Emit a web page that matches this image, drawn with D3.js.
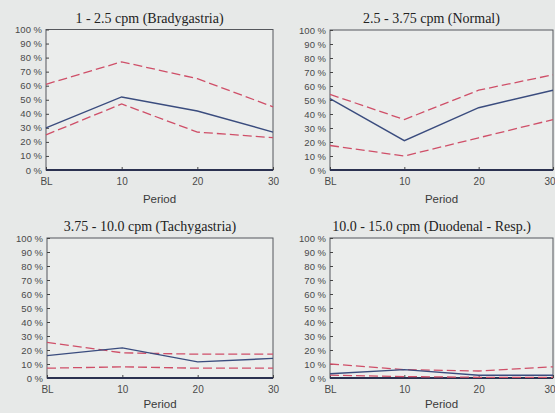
<!DOCTYPE html>
<html>
<head>
<meta charset="UTF-8">
<script src="https://cdn.jsdelivr.net/npm/d3@7"></script>
<style>
  html, body { margin: 0; padding: 0; background: #e7e9e8; }
  svg { display: block; }
</style>
</head>
<body>
<div id="chart"></div>
<script>
var width = 555, height = 413;

// x categories and y ticks
var periods = ["BL", "10", "20", "30"];
var yTicks = [0, 10, 20, 30, 40, 50, 60, 70, 80, 90, 100];

var titles = [
  "1 - 2.5 cpm (Bradygastria)",
  "2.5 - 3.75 cpm (Normal)",
  "3.75 - 10.0 cpm (Tachygastria)",
  "10.0 - 15.0 cpm (Duodenal - Resp.)"
];

// values in %, per panel: mean (blue) and upper / lower bounds (red dashed)
var meanVals = [
  [30, 52, 42, 27],
  [51, 21, 44.5, 57],
  [16, 21.5, 11.5, 14],
  [3, 6, 2, 2]
];
var upperVals = [
  [61, 77, 65, 45],
  [54, 36, 57, 68],
  [25.5, 18, 17, 17],
  [10, 6, 5, 8]
];
var lowerVals = [
  [25, 47, 27, 23],
  [17.5, 10, 23, 36],
  [7, 8, 7, 7],
  [2, 1, 0.5, 0.5]
];

// plot boxes [left, right, top, bottom]
var boxes = [
  [46, 273, 29.5, 170],
  [330, 553, 30, 170],
  [47, 273, 238, 378],
  [330, 553, 238, 378]
];

var svg = d3.select("#chart").append("svg")
  .attr("width", width)
  .attr("height", height);

svg.append("rect")
  .attr("width", width).attr("height", height)
  .attr("fill", "#e7e9e8");

boxes.forEach(function(b, i) {
  var x = d3.scalePoint().domain(periods).range([b[0], b[1]]);
  var y = d3.scaleLinear().domain([0, 100]).range([b[3], b[2]]);

  var g = svg.append("g");

  // plot area
  g.append("rect")
    .attr("x", b[0]).attr("y", b[2])
    .attr("width", b[1] - b[0]).attr("height", b[3] - b[2])
    .attr("fill", "#ebedec")
    .attr("stroke", "#55575c")
    .attr("stroke-width", 1);

  // title
  g.append("text")
    .attr("x", (b[0] + b[1]) / 2 - 10)
    .attr("y", b[2] - 7)
    .attr("text-anchor", "middle")
    .style("font-family", "'Liberation Serif', 'DejaVu Serif', serif")
    .style("font-size", "14px")
    .attr("fill", "#222")
    .text(titles[i]);

  // y axis
  var yAxis = g.append("g")
    .attr("transform", "translate(" + b[0] + ",0)")
    .call(d3.axisRight(y).tickValues(yTicks).tickSize(3).tickFormat(function(d) { return d + " %"; }));
  yAxis.select(".domain").remove();
  yAxis.selectAll("line").attr("stroke", "#444");
  yAxis.selectAll("text")
    .attr("x", -4)
    .attr("text-anchor", "end")
    .style("font-family", "'Liberation Sans', Arial, sans-serif")
    .style("font-size", "9.5px")
    .attr("fill", "#4a4a4a");

  // x axis
  var xAxis = g.append("g")
    .attr("transform", "translate(0," + b[3] + ")")
    .call(d3.axisTop(x).tickSize(3));
  xAxis.select(".domain").remove();
  xAxis.selectAll("line").attr("stroke", "#444");
  xAxis.selectAll("text")
    .attr("y", 15)
    .attr("dy", 0)
    .style("font-family", "'Liberation Sans', Arial, sans-serif")
    .style("font-size", "10px")
    .attr("fill", "#4a4a4a")
    .attr("text-anchor", function(d) {
      return (d === "30" && b[1] + 6 > width) ? "end" : "middle";
    })
    .attr("x", function(d) {
      return (d === "30" && b[1] + 6 > width) ? width - b[1] : 0;
    });

  g.append("line")
    .attr("x1", b[0]).attr("x2", b[1])
    .attr("y1", y(0)).attr("y2", y(0))
    .attr("stroke", "#2b3150")
    .attr("stroke-width", 2);

  g.append("text")
    .attr("x", (b[0] + b[1]) / 2)
    .attr("y", b[3] + (i < 2 ? 33 : 30))
    .attr("text-anchor", "middle")
    .style("font-family", "'Liberation Sans', Arial, sans-serif")
    .style("font-size", "11.5px")
    .attr("fill", "#3a3a3a")
    .text("Period");

  var line = d3.line()
    .x(function(d, j) { return x(periods[j]); })
    .y(function(d) { return y(d); });

  [upperVals[i], lowerVals[i]].forEach(function(vals) {
    g.append("path")
      .datum(vals)
      .attr("d", line)
      .attr("fill", "none")
      .attr("stroke", "#cf4f68")
      .attr("stroke-width", 1.3)
      .attr("stroke-dasharray", "9,4");
  });

  g.append("path")
    .datum(meanVals[i])
    .attr("d", line)
    .attr("fill", "none")
    .attr("stroke", "#3a4c7e")
    .attr("stroke-width", 1.4);
});
</script>
</body>
</html>
